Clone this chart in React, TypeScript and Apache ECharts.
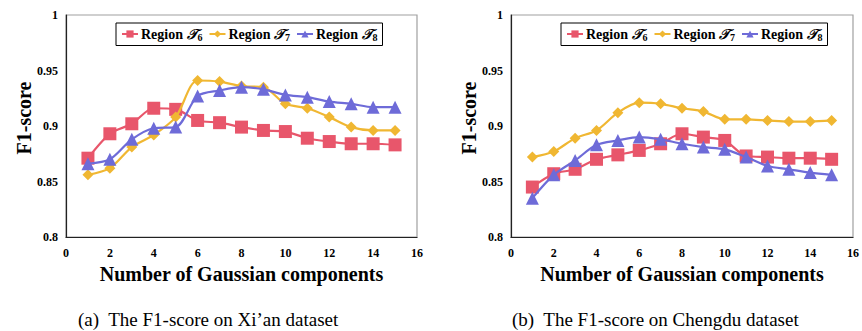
import React, { useEffect, useRef } from "react";
import * as echarts from "echarts";

const xValues = [1, 2, 3, 4, 5, 6, 7, 8, 9, 10, 11, 12, 13, 14, 15];
const seriesNames = ["Region 𝒯6", "Region 𝒯7", "Region 𝒯8"];

// (a) Xi'an
const xianT6 = [0.871, 0.893, 0.902, 0.916, 0.915, 0.905, 0.903, 0.899, 0.896, 0.895, 0.889, 0.886, 0.884, 0.884, 0.883];
const xianT7 = [0.856, 0.862, 0.881, 0.892, 0.908, 0.941, 0.940, 0.936, 0.935, 0.920, 0.916, 0.908, 0.899, 0.896, 0.896];
const xianT8 = [0.866, 0.870, 0.888, 0.898, 0.899, 0.927, 0.932, 0.935, 0.933, 0.928, 0.926, 0.922, 0.920, 0.917, 0.917];

// (b) Chengdu
const chengduT6 = [0.845, 0.857, 0.861, 0.870, 0.874, 0.878, 0.884, 0.893, 0.890, 0.887, 0.873, 0.872, 0.871, 0.871, 0.870];
const chengduT7 = [0.872, 0.877, 0.889, 0.896, 0.912, 0.921, 0.920, 0.916, 0.913, 0.906, 0.906, 0.905, 0.904, 0.904, 0.905];
const chengduT8 = [0.835, 0.856, 0.869, 0.883, 0.887, 0.890, 0.888, 0.884, 0.881, 0.879, 0.872, 0.864, 0.861, 0.858, 0.856];

const yTicks = [0.8, 0.85, 0.9, 0.95, 1];
const captions = ["(a)  The F1-score on Xi\u2019an dataset", "(b)  The F1-score on Chengdu dataset"];
const xName = "Number of Gaussian components";
const yName = "F1-score";

const colors = ["#e8566b", "#f0b732", "#6e6bd8"];
const symbols = ["rect", "diamond", "triangle"];
const symbolSizes = [13, 11, 13];

const SERIF = "Liberation Serif";

export default function App() {
  const ref = useRef<HTMLDivElement>(null);
  useEffect(() => {
    if (!ref.current) return;
    const chart = echarts.init(ref.current, undefined, { renderer: "svg" });
    const grids = [
      { left: 66, top: 15, width: 351, height: 222 },
      { left: 511, top: 15, width: 351, height: 222 },
    ];
    const data = [
      [xianT6, xianT7, xianT8],
      [chengduT6, chengduT7, chengduT8],
    ];
    const series: any[] = [];
    data.forEach((group, gi) => {
      group.forEach((vals, si) => {
        series.push({
          type: "line",
          name: seriesNames[si],
          xAxisIndex: gi,
          yAxisIndex: gi,
          data: vals.map((v, i) => [xValues[i], v]),
          smooth: 0.3,
          symbol: symbols[si],
          symbolSize: symbolSizes[si],
          z: 2 + si,
          lineStyle: { color: colors[si], width: 2.2 },
          itemStyle: { color: colors[si] },
        });
      });
    });
    const legendRich = {
      r: { fontFamily: SERIF, fontWeight: "bold", fontSize: 14, color: "#000" },
      t: { fontFamily: SERIF, fontWeight: "bold", fontStyle: "italic", fontSize: 14, color: "#000" },
      s: { fontFamily: SERIF, fontWeight: "bold", fontSize: 10, color: "#000", padding: [7, 0, 0, 0] },
    };
    const legendFormatter = (name: string) => {
      const sub = name.slice(-1);
      const tChar = name.slice(7, -1);
      return `{r|Region }{t|${tChar}}{s|${sub}}`;
    };
    const legends = grids.map((g) => ({
      left: g.left + 50,
      top: 23,
      orient: "horizontal",
      itemWidth: 16,
      itemHeight: 9,
      itemGap: 6,
      padding: [4, 5, 3, 5],
      borderColor: "#000",
      borderWidth: 1,
      data: seriesNames,
      formatter: legendFormatter,
      textStyle: { fontFamily: SERIF, fontWeight: "bold", rich: legendRich, padding: [0, 0, 0, -2] },
    }));
    const option: any = {
      animation: false,
      backgroundColor: "#fff",
      textStyle: { fontFamily: SERIF },
      grid: grids.map((g) => ({ ...g, show: true, borderColor: "#a0a0a0", borderWidth: 1.2, containLabel: false })),
      legend: legends,
      xAxis: grids.map((_, gi) => ({
        type: "value",
        gridIndex: gi,
        min: 0,
        max: 16,
        interval: 2,
        name: xName,
        nameLocation: "middle",
        nameGap: 27,
        nameTextStyle: { fontFamily: SERIF, fontWeight: "bold", fontSize: 20, color: "#000" },
        axisLine: { show: true, lineStyle: { color: "#222", width: 1.2 } },
        axisTick: { show: false },
        splitLine: { show: false },
        axisLabel: { fontFamily: SERIF, fontWeight: "bold", fontSize: 12, color: "#000", margin: 10 },
      })),
      yAxis: grids.map((_, gi) => ({
        type: "value",
        gridIndex: gi,
        min: yTicks[0],
        max: yTicks[yTicks.length - 1],
        interval: 0.05,
        axisLine: { show: true, lineStyle: { color: "#222", width: 1.2 } },
        axisTick: { show: false },
        splitLine: { show: false },
        axisLabel: { fontFamily: SERIF, fontWeight: "bold", fontSize: 12, color: "#000", margin: 8 },
      })),
      graphic: [
        ...captions.map((c, i) => ({
          type: "text",
          left: i === 0 ? 78 : 512,
          top: 310,
          style: { text: c, fontFamily: SERIF, fontSize: 19, fill: "#000" },
        })),
        ...grids.map((g) => ({
          type: "text",
          x: g.left - 42,
          y: 118,
          rotation: Math.PI / 2,
          style: {
            text: yName,
            fontFamily: SERIF,
            fontWeight: "bold",
            fontSize: 20,
            fill: "#000",
            align: "center",
            verticalAlign: "middle",
          },
        })),
      ],
      series,
    };
    chart.setOption(option);
    return () => chart.dispose();
  }, []);
  return (
    <div
      ref={ref}
      style={{ position: "fixed", left: 0, top: 0, width: 862, height: 331, background: "#fff" }}
    />
  );
}
